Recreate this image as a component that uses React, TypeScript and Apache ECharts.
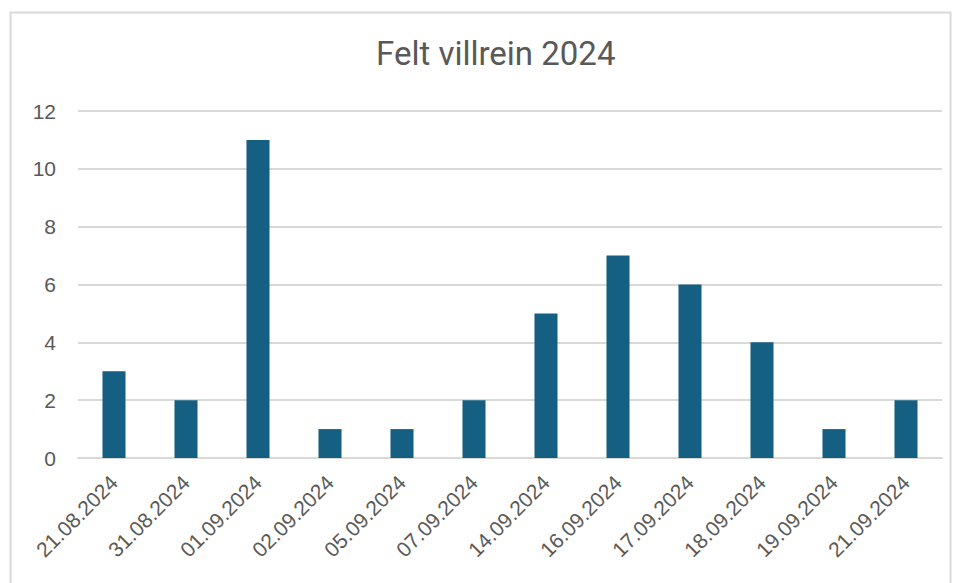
import React, { useEffect, useRef } from "react";
import * as echarts from "echarts";

const categories = [
  "21.08.2024", "31.08.2024", "01.09.2024", "02.09.2024", "05.09.2024", "07.09.2024",
  "14.09.2024", "16.09.2024", "17.09.2024", "18.09.2024", "19.09.2024", "21.09.2024",
];
const felt = [3, 2, 11, 1, 1, 2, 5, 7, 6, 4, 1, 2];
const title = "Felt villrein 2024";

export default function App() {
  const ref = useRef<HTMLDivElement>(null);
  useEffect(() => {
    if (!ref.current) return;
    const chart = echarts.init(ref.current, null, { renderer: "svg" });
    chart.setOption({
      animation: false,
      backgroundColor: "#ffffff",
      title: {
        text: title,
        left: 371,
        top: 32,
        textStyle: {
          fontFamily: "Roboto, sans-serif",
          fontSize: 33,
          fontWeight: "normal",
          color: "#595959",
        },
      },
      graphic: [
        {
          type: "rect",
          shape: { x: 10.5, y: 12.5, width: 940, height: 600 },
          style: { fill: "none", stroke: "#d9d9d9", lineWidth: 2 },
          silent: true,
        },
      ],
      grid: { left: 78, right: 16, top: 111, bottom: 125, containLabel: false },
      xAxis: {
        type: "category",
        data: categories,
        axisLine: { show: true, lineStyle: { color: "#d9d9d9", width: 2 } },
        axisTick: { show: false },
        axisLabel: {
          rotate: 45,
          color: "#595959",
          fontSize: 21,
          fontFamily: "Liberation Sans, Arial, sans-serif",
          margin: 21,
          interval: 0,
        },
      },
      yAxis: {
        type: "value",
        min: 0,
        max: 12,
        interval: 2,
        axisLine: { show: false },
        axisTick: { show: false },
        splitLine: { lineStyle: { color: "#d9d9d9", width: 2 } },
        axisLabel: {
          color: "#595959",
          fontSize: 21,
          fontFamily: "Liberation Sans, Arial, sans-serif",
          margin: 22,
        },
      },
      series: [
        {
          type: "bar",
          data: felt,
          barWidth: "32%",
          itemStyle: { color: "#156082" },
        },
      ],
    });
    return () => chart.dispose();
  }, []);
  return (
    <div
      ref={ref}
      style={{ position: "absolute", left: 0, top: 0, width: 958, height: 583 }}
    />
  );
}
